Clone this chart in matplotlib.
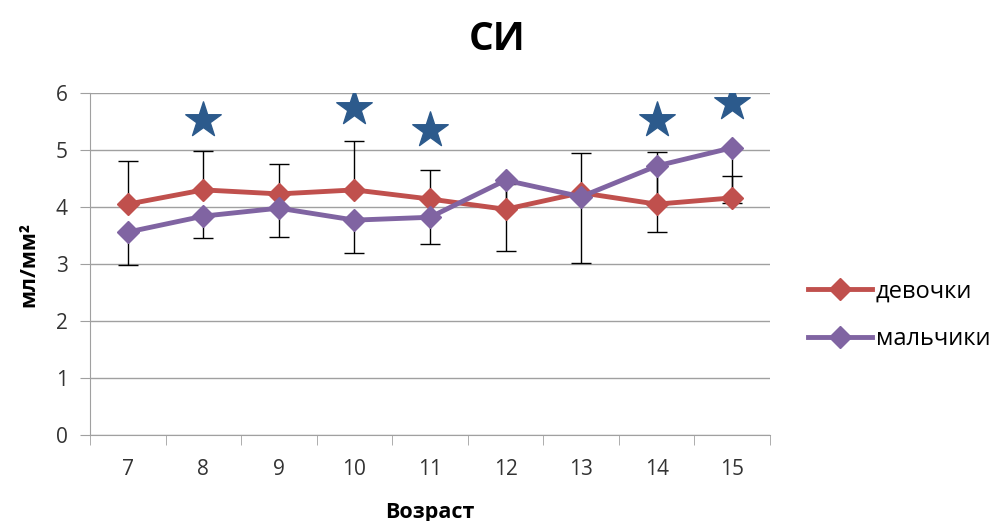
import numpy as np
import matplotlib.pyplot as plt

plt.rcParams['font.family'] = ['Open Sans', 'DejaVu Sans']

ages = ['7', '8', '9', '10', '11', '12', '13', '14', '15']
girls = [4.05, 4.30, 4.23, 4.30, 4.14, 3.96, 4.25, 4.05, 4.16]
boys = [3.56, 3.84, 3.98, 3.77, 3.82, 4.47, 4.18, 4.72, 5.04]
girls_err = [0.76, 0.68, 0.52, 0.86, 0.51, 0.45, 0.69, 0.91, 0.39]
boys_err = [0.58, 0.38, 0.50, 0.58, 0.47, 1.24, 1.16, 1.15, 0.97]
star_idx = [1, 3, 4, 7, 8]
star_y = [5.53, 5.74, 5.35, 5.53, 5.82]

red = '#C0504D'
purple = '#8064A2'
blue = '#2C5A8C'
grey = '#A0A0A0'

x = np.arange(len(ages))
zeros = np.zeros(len(ages))

fig = plt.figure(figsize=(10, 5.21), dpi=100)
ax = fig.add_axes([0.09, 0.165, 0.68, 0.6565])

ax.errorbar(x, girls, yerr=[zeros, girls_err], fmt='none', ecolor='black',
            elinewidth=1, capsize=7, capthick=1, zorder=2)
ax.errorbar(x, boys, yerr=[boys_err, zeros], fmt='none', ecolor='black',
            elinewidth=1, capsize=7, capthick=1, zorder=2)
ax.plot(x, girls, color=red, lw=3.5, marker='D', markersize=11.5, label='девочки', zorder=3)
ax.plot(x, boys, color=purple, lw=3.5, marker='D', markersize=11.5, label='мальчики', zorder=4)
ax.scatter(star_idx, star_y, marker='*', s=720, color=blue, zorder=5)

ax.set_xlim(-0.5, len(ages) - 0.5)
ax.set_ylim(0, 6)
ax.set_yticks(range(7))
ax.yaxis.grid(True, color=grey, lw=1)
ax.set_axisbelow(True)
ax.set_xticks(x)
ax.set_xticklabels(ages)
ax.set_xticks(np.arange(-0.5, len(ages)), minor=True)
ax.tick_params(axis='x', which='major', length=0, pad=17, labelsize=15, colors='#333333')
ax.tick_params(axis='x', which='minor', length=7, color=grey)
ax.tick_params(axis='y', length=7, color=grey, labelsize=15, pad=9, labelcolor='#333333')
for s in ['top', 'right']:
    ax.spines[s].set_visible(False)
for s in ['left', 'bottom']:
    ax.spines[s].set_color(grey)

fig.text(0.497, 0.925, 'СИ', fontsize=28, fontweight='bold', ha='center', va='center')
ax.set_xlabel('Возраст', fontsize=15.5, fontweight='bold', labelpad=16)
ax.set_ylabel('мл/мм²', fontsize=15.5, fontweight='bold', labelpad=12)

ax.legend(loc='center left', bbox_to_anchor=(1.025, 0.35), frameon=False,
          fontsize=17, handlelength=2.7, handletextpad=0.15, labelspacing=1.0)

fig.savefig('out.png', dpi=100)
